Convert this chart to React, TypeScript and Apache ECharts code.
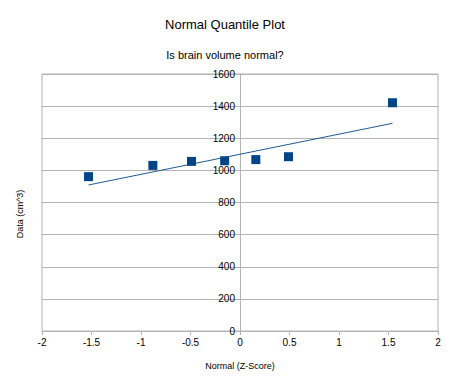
import React, { useEffect, useRef } from "react";
import * as echarts from "echarts";

const zScores = [-1.53, -0.88, -0.49, -0.155, 0.16, 0.49, 1.54];
const volumes = [961, 1031, 1056, 1060, 1067, 1085, 1421];
const trendX = [-1.53, 1.54];
const trendY = [909, 1293];
const xTicks = [-2, -1.5, -1, -0.5, 0, 0.5, 1, 1.5, 2];

export default function App() {
  const ref = useRef<HTMLDivElement>(null);
  useEffect(() => {
    const chart = echarts.init(ref.current!, null, { renderer: "svg" });
    const font = "'Liberation Sans', Arial, sans-serif";
    chart.setOption({
      animation: false,
      textStyle: { fontFamily: font },
      title: [
        {
          text: "Normal Quantile Plot",
          left: "center",
          top: 13,
          textStyle: { fontSize: 13, fontWeight: "normal", color: "#000", fontFamily: font },
        },
        {
          text: "Is brain volume normal?",
          left: "center",
          top: 44,
          textStyle: { fontSize: 11, fontWeight: "normal", color: "#000", fontFamily: font },
        },
      ],
      grid: {
        left: 42,
        right: 12,
        top: 74,
        bottom: 54,
        show: true,
        borderColor: "#b3b3b3",
        borderWidth: 1,
      },
      xAxis: {
        type: "value",
        min: xTicks[0],
        max: xTicks[xTicks.length - 1],
        interval: 0.5,
        name: "Normal (Z-Score)",
        nameLocation: "middle",
        nameGap: 30,
        nameTextStyle: { fontSize: 9, color: "#000", fontFamily: font },
        axisLine: { show: true, onZero: false, lineStyle: { color: "#b3b3b3" } },
        axisTick: { show: true, length: 4, lineStyle: { color: "#b3b3b3" } },
        axisLabel: { fontSize: 10, color: "#000", margin: 6, fontFamily: font },
        splitLine: { show: false },
      },
      yAxis: {
        type: "value",
        min: 0,
        max: 1600,
        interval: 200,
        offset: -198,
        axisLine: { show: true, onZero: false, lineStyle: { color: "#b3b3b3" } },
        axisTick: { show: true, length: 4, lineStyle: { color: "#b3b3b3" } },
        axisLabel: {
          fontSize: 10,
          color: "#000",
          margin: 5,
          fontFamily: font,
          formatter: (v: number) => String(v),
        },
        splitLine: { show: true, lineStyle: { color: "#b3b3b3", width: 1 } },
      },
      graphic: [
        {
          type: "text",
          x: 20,
          y: 214,
          rotation: Math.PI / 2,
          style: {
            text: "Data (cm^3)",
            fontSize: 9,
            fill: "#000",
            fontFamily: font,
            align: "center",
            verticalAlign: "middle",
          },
        },
      ],
      series: [
        {
          type: "line",
          data: trendX.map((x, i) => [x, trendY[i]]),
          showSymbol: false,
          symbol: "none",
          lineStyle: { color: "#1f5a94", width: 1 },
          z: 2,
        },
        {
          type: "scatter",
          data: zScores.map((x, i) => [x, volumes[i]]),
          symbol: "rect",
          symbolSize: 9,
          itemStyle: { color: "#004586", opacity: 1 },
          z: 3,
        },
      ],
    });
    return () => chart.dispose();
  }, []);
  return <div ref={ref} style={{ width: 450, height: 385, position: "absolute", left: 0, top: 0 }} />;
}
